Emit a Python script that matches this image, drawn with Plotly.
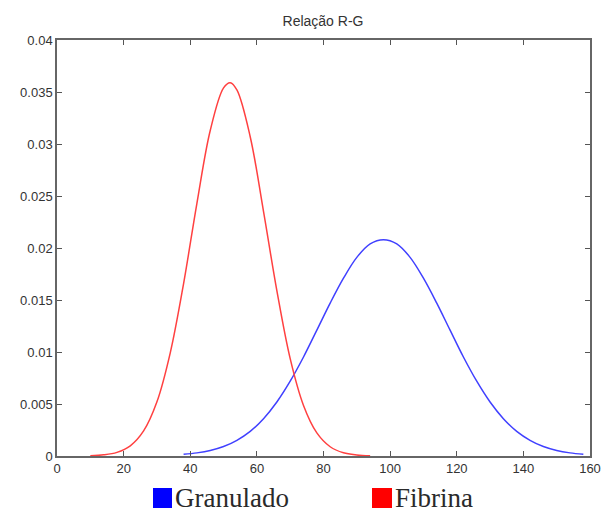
import plotly.graph_objects as go

# Values
fib_x = [10, 14, 18, 22, 26, 30, 34, 38, 42, 46, 50, 52, 54, 58, 62, 66, 70, 74, 78, 82, 86, 90, 94]
fib_y = [0.00003, 0.00011, 0.00035, 0.00098, 0.00241, 0.00521, 0.00992, 0.01658, 0.0243, 0.0313,
         0.0354, 0.0359, 0.0352, 0.0307, 0.0235, 0.0159, 0.00936, 0.00486, 0.00222, 0.00089,
         0.00031, 0.0001, 0.00002]

gra_x = [38, 42, 46, 50, 54, 58, 62, 66, 70, 74, 78, 82, 86, 90, 94, 98,
         102, 106, 110, 114, 118, 122, 126, 130, 134, 138, 142, 146, 150, 154, 158]
gra_y = [0.00016, 0.0003, 0.00053, 0.00091, 0.00151, 0.00237, 0.00359, 0.00519, 0.00719, 0.00952,
         0.0121, 0.0147, 0.0171, 0.0191, 0.0204, 0.0208, 0.0204, 0.0191, 0.0171, 0.0147,
         0.0121, 0.00952, 0.00719, 0.00519, 0.00359, 0.00237, 0.00151, 0.00091, 0.00053,
         0.0003, 0.00016]

x_ticks = [0, 20, 40, 60, 80, 100, 120, 140, 160]
y_ticks = [0, 0.005, 0.01, 0.015, 0.02, 0.025, 0.03, 0.035, 0.04]
y_tick_labels = ["0", "0.005", "0.01", "0.015", "0.02", "0.025", "0.03", "0.035", "0.04"]

legend_names = ["Granulado", "Fibrina"]
legend_colors = ["#0000ff", "#ff0000"]
title_text = "Relação R-G"

fig = go.Figure()
fig.add_trace(go.Scatter(x=gra_x, y=gra_y, mode="lines", line=dict(color="#4040ff", width=1.5, shape="spline"),
                         name=legend_names[0], showlegend=False))
fig.add_trace(go.Scatter(x=fib_x, y=fib_y, mode="lines", line=dict(color="#ff4040", width=1.5, shape="spline"),
                         name=legend_names[1], showlegend=False))

W, H = 604, 514
L, R, T, B = 57, 14, 40, 58
pw, ph = W - L - R, H - T - B

def px_x(p):  # page pixel -> paper x
    return (p - L) / pw

def px_y(p):  # page pixel -> paper y
    return (H - B - p) / ph

# Legend (squares + serif labels) positioned below the axes
sq = [(153, 172), (372, 392)]
for (x0, x1), name, col in zip(sq, legend_names, legend_colors):
    fig.add_shape(type="rect", xref="paper", yref="paper",
                  x0=px_x(x0), x1=px_x(x1), y0=px_y(508), y1=px_y(488),
                  fillcolor=col, line=dict(width=0))
    fig.add_annotation(xref="paper", yref="paper", x=px_x(x1 + 1), y=px_y(498),
                       text=name, showarrow=False, xanchor="left", yanchor="middle",
                       font=dict(family="Liberation Serif", size=27, color="#2a2a2a"))

fig.update_layout(
    width=W, height=H,
    margin=dict(l=L, r=R, t=T, b=B),
    paper_bgcolor="white", plot_bgcolor="white",
    title=dict(text=title_text, x=323 / W, xanchor="center", y=1 - 21 / H, yanchor="middle",
               font=dict(family="Liberation Sans", size=14, color="#333333")),
    showlegend=False,
)
fig.update_xaxes(range=[0, 160], tickvals=x_ticks, ticks="inside", ticklen=5, tickcolor="#555555",
                 showline=True, linecolor="#666666", linewidth=1.5, mirror="ticks",
                 showgrid=False, zeroline=False, automargin=False,
                 tickfont=dict(family="Liberation Sans", size=13, color="#333333"))
fig.update_yaxes(range=[0, 0.04], tickvals=y_ticks, ticktext=y_tick_labels, ticks="inside", ticklen=5,
                 tickcolor="#555555", showline=True, linecolor="#666666", linewidth=1.5, mirror="ticks",
                 showgrid=False, zeroline=False, automargin=False,
                 tickfont=dict(family="Liberation Sans", size=13, color="#333333"))

fig.write_html("out.html", config={"displayModeBar": False},
               post_script="document.body.style.margin='0px';document.body.style.overflow='hidden';")
